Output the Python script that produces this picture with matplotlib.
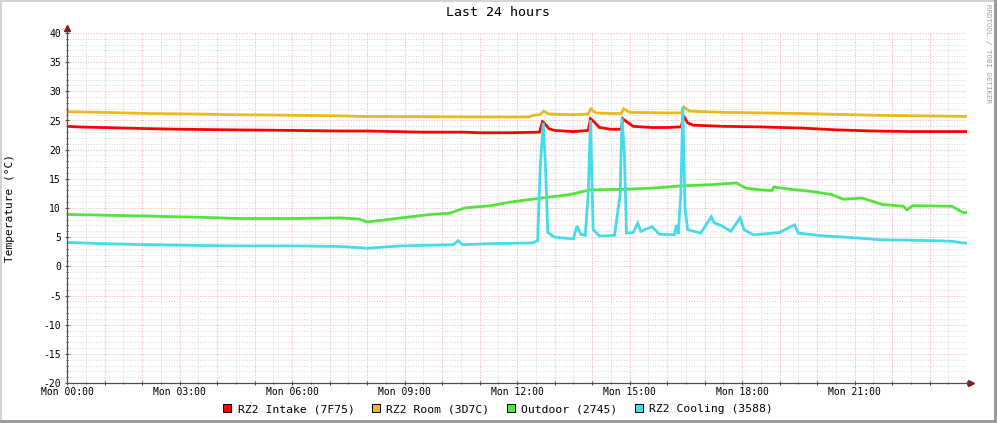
import matplotlib
matplotlib.use("Agg")
import matplotlib.pyplot as plt
from matplotlib.patches import Patch, Rectangle
from matplotlib.ticker import MultipleLocator, FuncFormatter

plt.rcParams['font.family'] = ['DejaVu Sans Mono']

# hours since Mon 00:00, degrees C
intake_t = [0, 0.3, 0.9, 2.2, 3.0, 4.4, 6.0, 7.3, 8.0, 9.5, 10.6, 11.0, 11.8, 12.6, 12.68,
            12.72, 12.85, 13.0, 13.5, 13.9, 13.96, 14.05, 14.2, 14.5, 14.78, 14.82, 14.9, 15.1,
            15.6, 16.0, 16.38, 16.44, 16.55, 16.7, 17.5, 18.5, 19.6, 20.5, 21.5, 22.5, 24.0]
intake_v = [24.0, 23.9, 23.8, 23.6, 23.5, 23.4, 23.3, 23.2, 23.2, 23.0, 23.0, 22.9, 22.9, 23.0, 24.8,
            24.6, 23.6, 23.3, 23.1, 23.3, 25.3, 24.8, 23.8, 23.5, 23.5, 25.3, 24.9, 24.0,
            23.8, 23.8, 23.9, 25.8, 24.6, 24.2, 24.0, 23.9, 23.7, 23.4, 23.2, 23.1, 23.1]

room_t = [0, 0.9, 2.2, 3.6, 4.4, 6.0, 7.3, 7.8, 11.0, 12.3, 12.45, 12.6, 12.72, 12.85, 13.5, 13.9,
          13.97, 14.1, 14.5, 14.78, 14.84, 15.0, 16.0, 16.38, 16.45, 16.6, 17.5, 19.6, 21.5, 22.8, 24.0]
room_v = [26.5, 26.4, 26.2, 26.1, 26.0, 25.9, 25.8, 25.7, 25.6, 25.6, 25.9, 26.0, 26.6, 26.1, 26.0, 26.1,
          27.0, 26.3, 26.2, 26.2, 27.0, 26.4, 26.3, 26.3, 27.3, 26.6, 26.4, 26.2, 25.9, 25.8, 25.7]

outdoor_t = [0, 0.75, 2.2, 3.6, 4.6, 6.0, 7.3, 7.8, 8.0, 8.9, 9.7, 10.2, 10.6, 11.3, 11.8, 12.4,
             12.9, 13.4, 13.95, 14.8, 15.6, 16.4, 17.2, 17.85, 18.1, 18.5, 18.8, 18.85, 19.3, 19.9,
             20.4, 20.7, 21.2, 21.75, 22.3, 22.4, 22.55, 23.6, 23.9, 24.0]
outdoor_v = [8.9, 8.8, 8.6, 8.4, 8.2, 8.2, 8.3, 8.1, 7.6, 8.3, 8.9, 9.1, 10.0, 10.4, 11.0, 11.5,
             11.9, 12.3, 13.1, 13.2, 13.4, 13.8, 14.0, 14.3, 13.4, 13.1, 13.0, 13.6, 13.2, 12.8,
             12.3, 11.5, 11.7, 10.6, 10.3, 9.7, 10.4, 10.3, 9.2, 9.2]

cooling_t = [0, 0.9, 2.2, 4.4, 6.0, 7.3, 8.0, 8.9, 10.3, 10.43, 10.55, 11.3, 12.4, 12.55, 12.62,
             12.70, 12.76, 12.82, 13.0, 13.5, 13.6, 13.7, 13.82, 13.9, 13.96, 14.03, 14.2, 14.6,
             14.75, 14.8, 14.86, 14.92, 15.1, 15.22, 15.3, 15.6, 15.8, 16.2, 16.25, 16.3, 16.37,
             16.42, 16.48, 16.55, 16.9, 17.18, 17.25, 17.5, 17.7, 17.95, 18.05, 18.3, 19.0, 19.3,
             19.4, 19.5, 20.1, 21.1, 21.7, 22.8, 23.6, 23.9, 24.0]
cooling_v = [4.1, 3.9, 3.7, 3.5, 3.5, 3.4, 3.1, 3.5, 3.7, 4.4, 3.7, 3.9, 4.0, 4.4, 17.1,
             24.6, 17.0, 5.8, 5.0, 4.7, 6.9, 5.5, 5.3, 12.5, 25.1, 6.3, 5.2, 5.3,
             12.3, 25.4, 20.0, 5.7, 5.8, 7.4, 6.0, 6.8, 5.5, 5.4, 7.1, 5.5, 12.6,
             27.4, 10.0, 6.3, 5.7, 8.5, 7.5, 6.8, 6.0, 8.3, 6.3, 5.4, 5.8, 6.8,
             7.1, 5.7, 5.25, 4.85, 4.55, 4.45, 4.3, 4.0, 4.0]

series = [
    ("RZ2 Intake (7F75)", intake_t, intake_v, "#FF0000"),
    ("RZ2 Room (3D7C)", room_t, room_v, "#EAB91E"),
    ("Outdoor (2745)", outdoor_t, outdoor_v, "#54E23C"),
    ("RZ2 Cooling (3588)", cooling_t, cooling_v, "#45DBEA"),
]
hour_labels = ["Mon 00:00", "Mon 03:00", "Mon 06:00", "Mon 09:00",
               "Mon 12:00", "Mon 15:00", "Mon 18:00", "Mon 21:00"]

fig = plt.figure(figsize=(9.97, 4.23), dpi=100)
fig.patch.set_facecolor("white")

# rrdtool style 3d frame
fig.add_artist(Rectangle((0, 1 - 2/423), 1, 2/423, transform=fig.transFigure, color="#D4D4D4", lw=0))
fig.add_artist(Rectangle((0, 0), 2/997, 1, transform=fig.transFigure, color="#D4D4D4", lw=0))
fig.add_artist(Rectangle((0, 0), 1, 3/423, transform=fig.transFigure, color="#9C9C9C", lw=0))
fig.add_artist(Rectangle((1 - 3/997, 0), 3/997, 1, transform=fig.transFigure, color="#9C9C9C", lw=0))

ax = fig.add_axes([67/997, 1 - 383/423, 900/997, 350/423])
ax.set_facecolor("white")
ax.set_xlim(0, 24)
ax.set_ylim(-20, 40)

ax.xaxis.set_major_locator(MultipleLocator(1))
ax.xaxis.set_minor_locator(MultipleLocator(0.5))
ax.yaxis.set_major_locator(MultipleLocator(5))
ax.yaxis.set_minor_locator(MultipleLocator(1))

def xfmt(x, pos):
    i = int(round(x))
    if i % 3 == 0 and i // 3 < len(hour_labels):
        return hour_labels[i // 3]
    return ""

ax.xaxis.set_major_formatter(FuncFormatter(xfmt))
ax.yaxis.set_major_formatter(FuncFormatter(lambda v, p: "%d" % v))

ax.set_axisbelow(True)
ax.grid(which="minor", color="#DADADA", linestyle=(0, (1, 1.6)), linewidth=0.72)
ax.grid(which="major", color="#F0B4B4", linestyle=(0, (1, 1.6)), linewidth=0.72)

for s in ["top", "right"]:
    ax.spines[s].set_visible(False)
for s in ["left", "bottom"]:
    ax.spines[s].set_color("#505050")
    ax.spines[s].set_linewidth(0.9)

ax.tick_params(which="both", colors="#505050", labelcolor="black", labelsize=7)
ax.tick_params(which="major", length=3, direction="inout", width=0.8)
ax.tick_params(which="minor", length=2, direction="inout", width=0.6)
ax.tick_params(axis="x", pad=1.5)
ax.tick_params(axis="y", pad=3)

# axis arrows
ax.plot([24, 24.1], [-20, -20], color="#505050", lw=0.9, clip_on=False)
ax.plot(24.1, -20, marker=">", color="#8B1A1A", markersize=4, clip_on=False)
ax.plot([0, 0], [40, 40.8], color="#505050", lw=0.9, clip_on=False)
ax.plot(0, 40.8, marker="^", color="#8B1A1A", markersize=4, clip_on=False)

handles = []
for name, t, v, c in series:
    ax.plot(t, v, color=c, lw=2.0, solid_joinstyle="miter")
    handles.append(Patch(facecolor=c, edgecolor="black", linewidth=0.7, label=name))

fig.text(498/997, 1 - 13/423, "Last 24 hours", ha="center", va="center", fontsize=9.5)
fig.text(10/997, 1 - 208/423, "Temperature (°C)", rotation=90, ha="center", va="center", fontsize=8)
fig.text(988/997, 1 - 4/423, "RRDTOOL / TOBI OETIKER", rotation=270, ha="center", va="top",
         fontsize=5.3, color="#A0A0A0")

fig.legend(handles=handles, loc="center", bbox_to_anchor=(498/997, 1 - 409/423), ncol=4,
           frameon=False, fontsize=8.2, handlelength=0.7, handleheight=0.7,
           handletextpad=0.6, columnspacing=1.5, borderpad=0)

fig.savefig("out.png", dpi=100, facecolor="white")
